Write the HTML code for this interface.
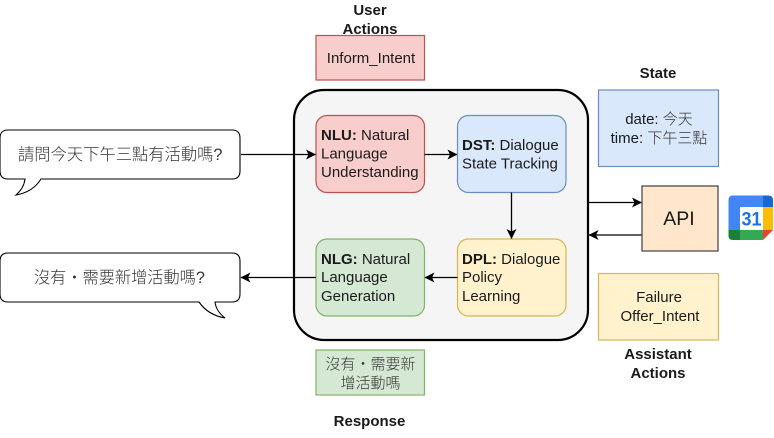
<!DOCTYPE html>
<html lang="zh-TW"><head><meta charset="utf-8"><style>
html,body{margin:0;padding:0;background:#fff}
svg{display:block}
text{font-family:"Liberation Sans","Noto Sans CJK TC",sans-serif;font-size:15px;fill:#1a1a1a}
.c{text-anchor:middle}
.b{font-weight:bold}
.z{font-family:"Liberation Sans","Noto Sans CJK TC",sans-serif;font-weight:300;fill:#333}
.l{stroke:#000;stroke-width:1.3;fill:none}
rect{stroke-width:1.2}
</style></head><body>
<svg width="774" height="438" viewBox="0 0 774 438" xmlns="http://www.w3.org/2000/svg">
<defs>
<marker id="a" markerWidth="12" markerHeight="12" refX="9.500" refY="5" orient="auto" markerUnits="userSpaceOnUse"><path d="M0,0 L10,5 L0,10 L2.500,5Z" fill="#000"/></marker>
</defs>

<text class="c b" x="370" y="15">User</text>
<text class="c b" x="370" y="34">Actions</text>
<rect x="316" y="35.500" width="108.500" height="44.500" fill="#f8cecc" stroke="#b85450"/>
<text class="c" x="371" y="63">Inform_Intent</text>

<rect x="294" y="90" width="294" height="250" rx="30" fill="#f5f5f5" stroke="#000" style="stroke-width:2.200"/>

<rect x="316" y="115.500" width="108.500" height="77" rx="11" fill="#f8cecc" stroke="#b85450"/>
<text x="321" y="140"><tspan class="b">NLU:</tspan> Natural</text>
<text x="321" y="158.500">Language</text>
<text x="321" y="177">Understanding</text>

<rect x="457.500" y="115.500" width="108.500" height="77" rx="11" fill="#dae8fc" stroke="#6c8ebf"/>
<text x="462" y="150"><tspan class="b">DST:</tspan> Dialogue</text>
<text x="462" y="168.500">State Tracking</text>

<rect x="457.500" y="239" width="108.500" height="77" rx="11" fill="#fff2cc" stroke="#d6b656"/>
<text x="462" y="264"><tspan class="b">DPL:</tspan> Dialogue</text>
<text x="462" y="282">Policy</text>
<text x="462" y="301">Learning</text>

<rect x="316" y="239" width="108.500" height="77" rx="11" fill="#d5e8d4" stroke="#82b366"/>
<text x="321" y="264"><tspan class="b">NLG:</tspan> Natural</text>
<text x="321" y="282">Language</text>
<text x="321" y="301">Generation</text>

<path class="l" d="M241 154.500H315.500" marker-end="url(#a)"/>
<path class="l" d="M424.500 154.500H457" marker-end="url(#a)"/>
<path class="l" d="M511.500 192.500V238.500" marker-end="url(#a)"/>
<path class="l" d="M457.500 277.500H425" marker-end="url(#a)"/>
<path class="l" d="M316 277.500H241" marker-end="url(#a)"/>
<path class="l" d="M588 202.500H641.500" marker-end="url(#a)"/>
<path class="l" d="M642 235H589" marker-end="url(#a)"/>

<path d="M8 130H232Q240 130 240 138V171Q240 179 232 179H41Q33 192 16 195Q24 188 25 179H8Q0 179 0 171V138Q0 130 8 130Z" fill="#fff" stroke="#000" stroke-width="1.100"/>
<text class="z" x="18" y="160" style="font-size:16.300px">請問今天下午三點有活動嗎?</text>

<path d="M8 253H232Q240 253 240 261V294Q240 302 232 302H215Q216 311 225 318Q208 315 199 302H8Q0 302 0 294V261Q0 253 8 253Z" fill="#fff" stroke="#000" stroke-width="1.100"/>
<text class="z" x="34" y="283" style="font-size:16.200px">沒有・需要新增活動嗎?</text>

<text class="c b" x="658" y="78">State</text>
<rect x="598.500" y="90" width="120" height="76.500" fill="#dae8fc" stroke="#6c8ebf"/>
<text class="c" x="659" y="124">date: <tspan class="z">今天</tspan></text>
<text class="c" x="659" y="143">time: <tspan class="z">下午三點</tspan></text>

<rect x="642" y="186" width="76" height="65" fill="#ffe6cc" stroke="#4d4d4d" style="stroke-width:1.300"/>
<text class="c" x="679" y="225" style="font-size:19.500px">API</text>

<rect x="598.500" y="273.500" width="120" height="66.500" fill="#fff2cc" stroke="#d6b656"/>
<text class="c" x="659" y="302">Failure</text>
<text class="c" x="660" y="321">Offer_Intent</text>

<text class="c b" x="658" y="359">Assistant</text>
<text class="c b" x="658" y="378">Actions</text>

<rect x="316" y="350" width="108.500" height="45" fill="#d5e8d4" stroke="#82b366"/>
<text class="c z" x="370.500" y="369" style="font-size:15px">沒有・需要新</text>
<text class="c z" x="370.500" y="388" style="font-size:15px">增活動嗎</text>
<text class="c b" x="369.500" y="426">Response</text>

<path d="M733 195.500H763V207H740V230H728.500V200Q728.500 195.500 733 195.500Z" fill="#4285f4"/>
<path d="M763 195.500H768Q773 195.500 773 200V207H763Z" fill="#1967d2"/>
<rect x="763" y="207" width="10" height="23" fill="#fbbc04" style="stroke:none"/>
<path d="M763 230H773L763 240Z" fill="#ea4335"/>
<rect x="740" y="230" width="23" height="10" fill="#34a853" style="stroke:none"/>
<path d="M728.500 230H740V240H733Q728.500 240 728.500 236Z" fill="#188038"/>
<rect x="740" y="207" width="23" height="23" fill="#fff" style="stroke:none"/>
<text class="c" x="751.500" y="225.500" style="font-size:19px;font-weight:bold;fill:#1a73e8" textLength="20" lengthAdjust="spacingAndGlyphs">31</text>
</svg>
</body></html>
